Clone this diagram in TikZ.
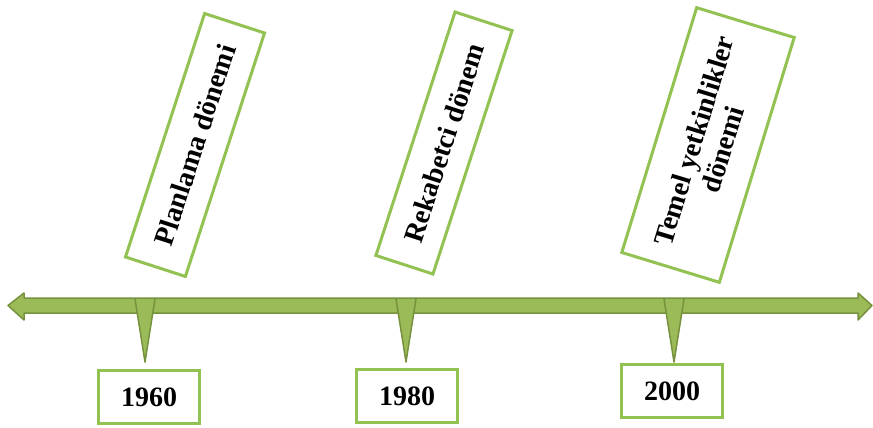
\documentclass[tikz,border=0pt]{standalone}
\usepackage{fontspec}
\setmainfont{Liberation Serif}
\usetikzlibrary{calc}
\definecolor{barfill}{RGB}{155,187,89}
\definecolor{barline}{RGB}{118,146,60}
\definecolor{boxgreen}{RGB}{146,194,82}

\begin{document}
\begin{tikzpicture}[x=1pt, y=-1pt,
    period/.style={rectangle, draw=boxgreen, line width=3pt, fill=white, minimum width=256pt, align=center, inner sep=2pt, font=\fontsize{28}{30}\selectfont\bfseries},
    year/.style={rectangle, draw=boxgreen, line width=3pt, fill=white, minimum width=101pt, minimum height=53pt, font=\fontsize{28}{30}\selectfont\bfseries},
    timeline/.style={fill=barfill, draw=barline, line width=1.5pt, line join=round},
    tick/.style={fill=barfill, draw=barline, line width=1.5pt, line join=round}
]
\useasboundingbox (0,0) rectangle (873,428);

% time axis
\draw[timeline] (8,305.5) -- (24,293) -- (24,298) -- (858,298) -- (858,293) -- (872,305.5)
    -- (858,320) -- (858,313) -- (24,313) -- (24,320) -- cycle;

% periods
\node[period, rotate=72, minimum height=63pt] (plan) at (195,145) {Planlama dönemi};
\node[period, rotate=72, minimum height=60pt] (rekabet) at (444,143) {Rekabetci dönem};
\node[period, rotate=73, minimum height=102pt] (temel) at (708,145) {Temel yetkinlikler\\dönemi};

% years
\node[year] (y1960) at (149,397) {1960};
\node[year] (y1980) at (407,396) {1980};
\node[year] (y2000) at (672,391) {2000};

% ticks
\coordinate (t1960) at (145,299);
\coordinate (t1980) at (406,299);
\coordinate (t2000) at (674,299);
\coordinate (p1960) at (145,362);
\coordinate (p1980) at (406,362);
\coordinate (p2000) at (674,362);
\draw[tick] ($(t1960)+(-10,0)$) -- (p1960) -- ($(t1960)+(10,0)$);
\draw[tick] ($(t1980)+(-10,0)$) -- (p1980) -- ($(t1980)+(10,0)$);
\draw[tick] ($(t2000)+(-10,0)$) -- (p2000) -- ($(t2000)+(10,0)$);
\end{tikzpicture}
\end{document}
